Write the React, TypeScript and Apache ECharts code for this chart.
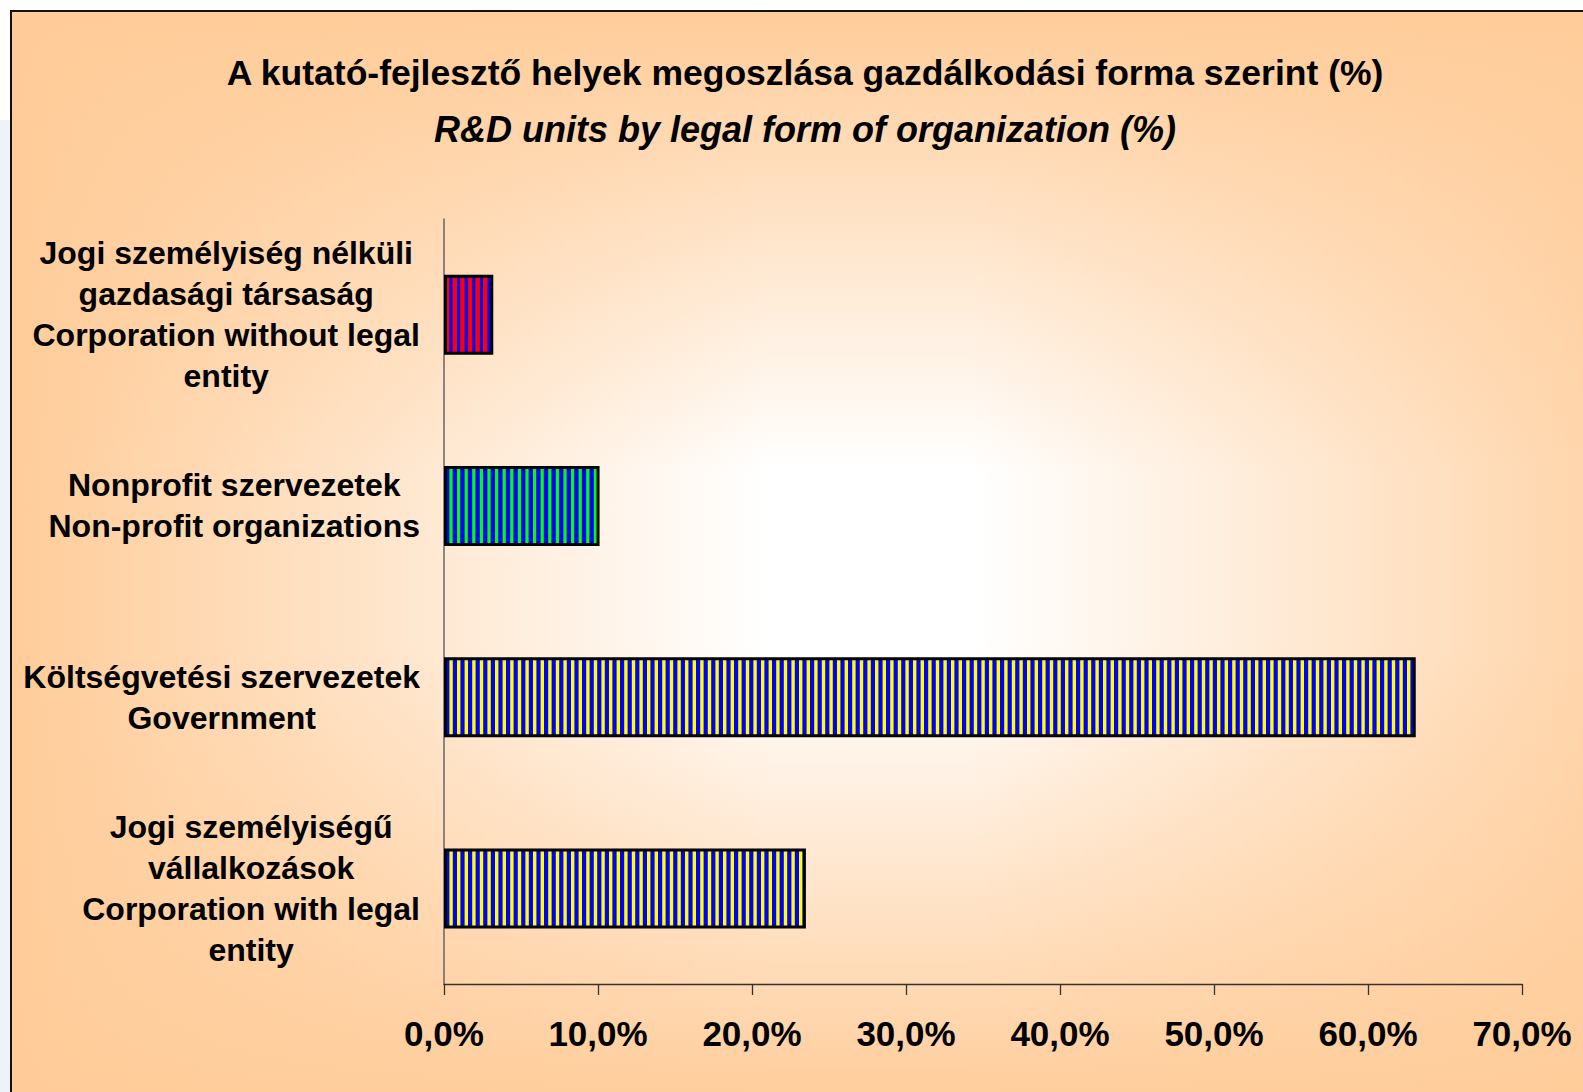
import React, { useEffect, useRef } from "react";
import * as echarts from "echarts";

// ---- data (y-axis categories listed bottom to top) ----
const categories: string[] = [
  "Jogi személyiségű\nvállalkozások\nCorporation with legal\nentity",
  "Költségvetési szervezetek\nGovernment",
  "Nonprofit szervezetek\nNon-profit organizations",
  "Jogi személyiség nélküli\ngazdasági társaság\nCorporation without legal\nentity",
];
const values: number[] = [23.5, 63.1, 10.1, 3.2];

const titleText = "A kutató-fejlesztő helyek megoszlása gazdálkodási forma szerint (%)";
const subtitleText = "R&D units by legal form of organization (%)";

const axisMin = 0;
const axisMax = 70;
const axisStep = 10;

// ---- styles ----
const barBackColors = ["#0000FF", "#0000FF", "#0000FF", "#FF0000"];
const barStripeColors = ["#FFFF00", "#FFFF00", "#00FF00", "#0000FF"];
const barStripeWidths = [3.4, 3.4, 3.2, 3.2];

const sansFont = "'Liberation Sans', Arial, sans-serif";
const PEACH = "#FFCC99";

function stripePattern(back: string, stripe: string, stripeW: number) {
  const period = 7.6;
  const n = 5;
  const c = document.createElement("canvas");
  c.width = Math.round(period * n);
  c.height = 4;
  const ctx = c.getContext("2d")!;
  ctx.fillStyle = back;
  ctx.fillRect(0, 0, c.width, c.height);
  ctx.fillStyle = stripe;
  for (let i = 0; i < n; i++) ctx.fillRect(i * period + 1, 0, stripeW, c.height);
  return {
    image: c.toDataURL(),
    repeat: "repeat" as const,
    imageWidth: c.width,
    imageHeight: c.height,
  };
}

export default function App() {
  const ref = useRef<HTMLDivElement>(null);

  useEffect(() => {
    if (!ref.current) return;
    const chart = echarts.init(ref.current, undefined, { renderer: "svg" });

    const data = values.map((v, i) => ({
      value: v,
      itemStyle: {
        color: stripePattern(barBackColors[i], barStripeColors[i], barStripeWidths[i]),
        borderColor: "#000000",
        borderWidth: 3,
      },
    }));

    chart.setOption({
      animation: false,
      backgroundColor: "#FFFFFF",
      graphic: [
        {
          type: "rect",
          z: -20,
          silent: true,
          shape: { x: 0, y: 120, width: 10, height: 980 },
          style: { fill: "#EDF3F9" },
        },
        {
          type: "rect",
          z: -19,
          silent: true,
          shape: { x: 10, y: 10, width: 1720, height: 1100 },
          style: {
            fill: new echarts.graphic.LinearGradient(0, 0, 1, 0, [
              { offset: 0, color: PEACH },
              { offset: 0.44, color: "#FFFFFF" },
              { offset: 0.56, color: "#FFFFFF" },
              { offset: 1, color: PEACH },
            ]),
          },
        },
        {
          type: "rect",
          z: -18,
          silent: true,
          shape: { x: 10, y: 10, width: 1720, height: 1100 },
          style: {
            fill: new echarts.graphic.LinearGradient(0, 0, 0, 1, [
              { offset: 0, color: "rgba(255,204,153,1)" },
              { offset: 0.42, color: "rgba(255,204,153,0)" },
              { offset: 0.58, color: "rgba(255,204,153,0)" },
              { offset: 1, color: "rgba(255,204,153,1)" },
            ]),
          },
        },
        {
          type: "rect",
          z: -17,
          silent: true,
          shape: { x: 11, y: 11, width: 1700, height: 1200 },
          style: { fill: "none", stroke: "#111111", lineWidth: 2 },
        },
      ],
      title: {
        text: titleText,
        subtext: subtitleText,
        left: 800,
        textAlign: "center",
        top: 50,
        itemGap: 20,
        textStyle: {
          fontFamily: sansFont,
          fontWeight: "bold",
          fontSize: 35.5,
          color: "#000000",
        },
        subtextStyle: {
          fontFamily: sansFont,
          fontWeight: "bold",
          fontStyle: "italic",
          fontSize: 36,
          color: "#000000",
        },
      },
      grid: { left: 444, top: 219, width: 1078, height: 765, containLabel: false },
      xAxis: {
        type: "value",
        min: axisMin,
        max: axisMax,
        interval: axisStep,
        axisLine: { show: true, lineStyle: { color: "#333333", width: 1.3 } },
        axisTick: { show: true, length: 11, lineStyle: { color: "#333333", width: 1.3 } },
        splitLine: { show: false },
        axisLabel: {
          margin: 32,
          fontFamily: sansFont,
          fontWeight: "bold",
          fontSize: 35,
          color: "#000000",
          formatter: (v: number) => v.toFixed(1).replace(".", ",") + "%",
        },
      },
      yAxis: {
        type: "category",
        data: categories,
        axisLine: { show: true, lineStyle: { color: "#666666", width: 1.5 } },
        axisTick: { show: false },
        splitLine: { show: false },
        axisLabel: {
          interval: 0,
          align: "right",
          margin: 24,
          formatter: (v: string) =>
            v
              .split("\n")
              .map((l) => "{c|" + l + "}")
              .join("\n"),
          rich: {
            c: {
              align: "center",
              fontFamily: sansFont,
              fontWeight: "bold",
              fontSize: 32,
              lineHeight: 41,
              color: "#000000",
            },
          },
        },
      },
      series: [
        {
          type: "bar",
          data,
          barWidth: 80,
        },
      ],
    });

    return () => chart.dispose();
  }, []);

  return (
    <div
      ref={ref}
      style={{ position: "fixed", left: 0, top: 0, width: 1583, height: 1092 }}
    />
  );
}
